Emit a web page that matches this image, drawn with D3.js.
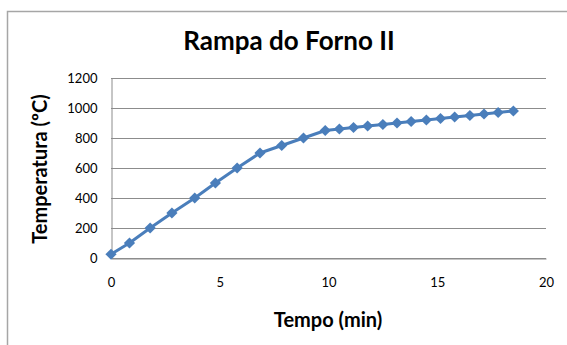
<!DOCTYPE html>
<html>
<head>
<meta charset="utf-8">
<script src="https://cdn.jsdelivr.net/npm/d3@7"></script>
<style>
  html, body { margin: 0; padding: 0; background: #fff; }
  svg { display: block; font-family: "Lato", "Open Sans", sans-serif; }
</style>
</head>
<body>
<svg id="chart" width="567" height="345"></svg>
<script>
// Furnace ramp: time (min) vs temperature (°C)
const tempo = [0, 0.85, 1.8, 2.8, 3.85, 4.8, 5.8, 6.85, 7.85, 8.85, 9.85,
  10.5, 11.15, 11.8, 12.5, 13.15, 13.8, 14.5, 15.15, 15.8, 16.5, 17.15, 17.8, 18.5];
const temperatura = [25, 100, 200, 300, 400, 500, 600, 700, 750, 800, 850,
  860, 870, 880, 890, 900, 910, 920, 930, 940, 950, 960, 970, 980];
const xTicks = [0, 5, 10, 15, 20];
const yTicks = [0, 200, 400, 600, 800, 1000, 1200];

const svg = d3.select("#chart");
const plot = { left: 111, right: 546, top: 78, bottom: 258 };

const x = d3.scaleLinear().domain([0, 20]).range([plot.left, plot.right]);
const y = d3.scaleLinear().domain([0, 1200]).range([plot.bottom, plot.top]);

// outer chart frame
svg.append("rect")
  .attr("x", 7.5).attr("y", 11.5)
  .attr("width", 600).attr("height", 400)
  .attr("fill", "none").attr("stroke", "#a6a6a6").attr("stroke-width", 1.5);

// title
svg.append("text")
  .attr("x", 289).attr("y", 50)
  .attr("text-anchor", "middle")
  .attr("font-size", 26).attr("font-weight", "bold").attr("fill", "#000")
  .text("Rampa do Forno II");

// horizontal gridlines
svg.append("g")
  .selectAll("line").data(yTicks).join("line")
  .attr("x1", plot.left).attr("x2", plot.right)
  .attr("y1", d => Math.round(y(d)) + 0.5).attr("y2", d => Math.round(y(d)) + 0.5)
  .attr("stroke", "#8c8c8c").attr("stroke-width", 1);

// y axis
const yAxis = svg.append("g")
  .attr("transform", `translate(${plot.left + 0.5},0)`)
  .call(d3.axisLeft(y).tickValues(yTicks).tickFormat(d3.format("d")).tickSize(0).tickPadding(14));
yAxis.select(".domain").attr("stroke", "#8c8c8c");
yAxis.selectAll("text").attr("font-size", 13).attr("fill", "#000")
  .attr("font-family", "Lato, 'Open Sans', sans-serif");

// x axis
const xAxis = svg.append("g")
  .attr("transform", `translate(0,${Math.round(y(0)) + 0.5})`)
  .call(d3.axisBottom(x).tickValues(xTicks).tickFormat(d3.format("d")).tickSize(0).tickPadding(19));
xAxis.select(".domain").attr("stroke", "#8c8c8c");
xAxis.selectAll("text").attr("font-size", 13).attr("fill", "#000")
  .attr("font-family", "Lato, 'Open Sans', sans-serif");

// axis titles
svg.append("text")
  .attr("x", 328).attr("y", 327)
  .attr("text-anchor", "middle")
  .attr("font-size", 20).attr("font-weight", "bold")
  .text("Tempo (min)");

svg.append("text")
  .attr("transform", "translate(47,169) rotate(-90)")
  .attr("text-anchor", "middle")
  .attr("font-size", 20).attr("font-weight", "bold")
  .text("Temperatura (ºC)");

const pts = tempo.map((t, i) => [t, temperatura[i]]);

// series line
svg.append("path")
  .datum(pts)
  .attr("fill", "none")
  .attr("stroke", "#4a7ebb")
  .attr("stroke-width", 3)
  .attr("stroke-linejoin", "round")
  .attr("d", d3.line().x(d => x(d[0])).y(d => y(d[1])));

// diamond markers
svg.append("g")
  .selectAll("path").data(pts).join("path")
  .attr("transform", d => `translate(${x(d[0])},${y(d[1])})`)
  .attr("d", d3.symbol(d3.symbolDiamond2, 80)())
  .attr("fill", "#4a7ebb");
</script>
</body>
</html>
